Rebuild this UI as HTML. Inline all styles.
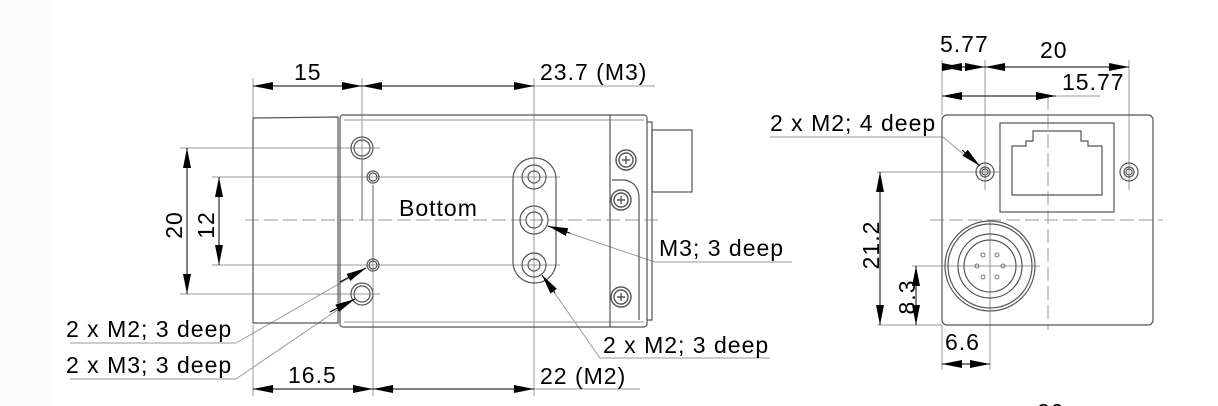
<!DOCTYPE html>
<html><head><meta charset="utf-8"><style>
html,body{margin:0;padding:0;background:#fff;}
svg{display:block;}
text{font-family:"Liberation Sans",sans-serif;font-size:23px;letter-spacing:1px;fill:#000;}
</style></head><body>
<svg width="1218" height="406" viewBox="0 0 1218 406" xmlns="http://www.w3.org/2000/svg">
<defs>
<marker id="a" viewBox="0 0 20 8" refX="20" refY="4" markerWidth="20" markerHeight="8" markerUnits="userSpaceOnUse" orient="auto-start-reverse"><path d="M0,0L20,4L0,8z" fill="#000"/></marker>
</defs>
<rect x="0" y="0" width="50" height="406" fill="#fbfbfb"/>
<g fill="none" stroke="#999" stroke-width="1">
<line x1="253" y1="78" x2="253" y2="118"/>
<line x1="362" y1="78" x2="362" y2="178"/>
<line x1="534" y1="78" x2="534" y2="300"/>
<line x1="253" y1="325" x2="253" y2="396"/>
<line x1="373" y1="250" x2="373" y2="396"/>
<line x1="534" y1="280" x2="534" y2="396"/>
<line x1="180" y1="148" x2="380" y2="148"/>
<line x1="180" y1="294" x2="380" y2="294"/>
<line x1="212" y1="177" x2="560" y2="177"/>
<line x1="212" y1="265" x2="560" y2="265"/>
<line x1="515" y1="86" x2="655" y2="86"/>
<line x1="515" y1="389" x2="640" y2="389"/>
<line x1="245" y1="220" x2="660" y2="220" stroke-dasharray="14,5"/>
<line x1="70" y1="343" x2="236" y2="343"/>
<line x1="236" y1="343" x2="363" y2="270"/>
<line x1="70" y1="379" x2="236" y2="379"/>
<line x1="236" y1="379" x2="352" y2="300"/>
<line x1="655" y1="262" x2="792" y2="262"/>
<line x1="655" y1="262" x2="548" y2="226"/>
<line x1="600" y1="358" x2="770" y2="358"/>
<line x1="600" y1="358" x2="542" y2="275"/>
</g>
<g fill="none" stroke="#555" stroke-width="1.2">
<path d="M253,118 L338,117 L338,323 L253,323 Z"/>
<rect x="340" y="115" width="307" height="212" rx="3"/>
<line x1="344" y1="120" x2="644" y2="120" stroke="#aaa"/>
<line x1="344" y1="322" x2="644" y2="322" stroke="#aaa"/>
<line x1="610" y1="115" x2="610" y2="327"/>
<path d="M612,180 L625,180 Q639,183 639,198 L639,320" />
<line x1="362" y1="160" x2="362" y2="220" stroke="#777"/>
<line x1="373" y1="185" x2="373" y2="260" stroke="#777"/>
<path d="M647,122 L652,122 L652,320 L647,320" />
<rect x="652" y="130" width="40" height="62"/>
<circle cx="362" cy="148" r="11"/><circle cx="362" cy="148" r="8"/>
<circle cx="373" cy="177" r="6"/><circle cx="373" cy="177" r="4"/>
<circle cx="373" cy="265" r="6"/><circle cx="373" cy="265" r="4"/>
<circle cx="362" cy="294" r="11"/><circle cx="362" cy="294" r="8"/>
<rect x="513" y="158" width="43" height="125" rx="21"/>
<circle cx="534" cy="177" r="12"/><circle cx="534" cy="177" r="6"/>
<circle cx="534" cy="220" r="14"/><circle cx="534" cy="220" r="8"/>
<circle cx="534" cy="265" r="12"/><circle cx="534" cy="265" r="6"/>
<g stroke-width="1.4">
<circle cx="626" cy="160" r="10"/><circle cx="626" cy="160" r="7"/>
<path d="M622,160h8M626,156v8"/>
<circle cx="621" cy="200" r="10"/><circle cx="621" cy="200" r="7"/>
<path d="M617,200h8M621,196v8"/>
<circle cx="621" cy="297" r="10"/><circle cx="621" cy="297" r="7"/>
<path d="M617,297h8M621,293v8"/>
</g>
</g>
<g stroke="#000" stroke-width="1" fill="none">
<line x1="253" y1="86" x2="362" y2="86" marker-start="url(#a)" marker-end="url(#a)"/>
<line x1="362" y1="86" x2="534" y2="86" marker-start="url(#a)" marker-end="url(#a)"/>
<line x1="253" y1="389" x2="373" y2="389" marker-start="url(#a)" marker-end="url(#a)"/>
<line x1="373" y1="389" x2="534" y2="389" marker-start="url(#a)" marker-end="url(#a)"/>
<line x1="187" y1="148" x2="187" y2="294" marker-start="url(#a)" marker-end="url(#a)"/>
<line x1="219" y1="177" x2="219" y2="265" marker-start="url(#a)" marker-end="url(#a)"/>
<line x1="340" y1="282" x2="366" y2="268" marker-end="url(#a)"/>
<line x1="330" y1="312" x2="355" y2="299" marker-end="url(#a)"/>
<line x1="570" y1="233" x2="548" y2="226" marker-end="url(#a)"/>
<line x1="555" y1="293" x2="542" y2="275" marker-end="url(#a)"/>
</g>
<text x="294" y="80">15</text>
<text x="540" y="80">23.7 (M3)</text>
<text x="399" y="216">Bottom</text>
<text x="288" y="383">16.5</text>
<text x="540" y="384">22 (M2)</text>
<text transform="translate(182,225) rotate(-90)" text-anchor="middle">20</text>
<text transform="translate(214,225) rotate(-90)" text-anchor="middle">12</text>
<text x="66" y="337">2 x M2; 3 deep</text>
<text x="66" y="373">2 x M3; 3 deep</text>
<text x="659" y="256">M3; 3 deep</text>
<text x="603" y="353">2 x M2; 3 deep</text>

<g fill="none" stroke="#999" stroke-width="1">
<line x1="942" y1="60" x2="942" y2="115"/>
<line x1="985" y1="60" x2="985" y2="190"/>
<line x1="1129" y1="60" x2="1129" y2="190"/>
<line x1="962" y1="96" x2="1100" y2="96"/>
<line x1="1010" y1="67" x2="1129" y2="67"/>
<line x1="1048" y1="96" x2="1048" y2="330" stroke-dasharray="14,5"/>
<line x1="930" y1="220" x2="1163" y2="220" stroke-dasharray="14,5"/>
<line x1="877" y1="172" x2="1000" y2="172"/>
<line x1="877" y1="325" x2="942" y2="325"/>
<line x1="912" y1="266" x2="1040" y2="266"/>
<line x1="990" y1="220" x2="990" y2="370"/>
<line x1="942" y1="325" x2="942" y2="370"/>
<line x1="770" y1="137" x2="943" y2="137"/>
<line x1="943" y1="137" x2="968" y2="158"/>
</g>
<g fill="none" stroke="#555" stroke-width="1.2">
<rect x="942" y="115" width="211" height="210" rx="5"/>
<rect x="1000" y="123" width="114" height="89"/>
<path d="M1012,195 L1012,146 L1026,146 L1026,141 L1033,141 L1033,131 L1081,131 L1081,141 L1088,141 L1088,146 L1102,146 L1102,195 Z"/>
<circle cx="985" cy="172" r="9"/><circle cx="985" cy="172" r="5"/><circle cx="985" cy="172" r="3"/>
<circle cx="1129" cy="172" r="9"/><circle cx="1129" cy="172" r="5"/><circle cx="1129" cy="172" r="3"/>
<circle cx="990" cy="266" r="45"/><circle cx="990" cy="266" r="42"/><circle cx="990" cy="266" r="32"/><circle cx="990" cy="266" r="26"/>
<g stroke-width="0.8"><circle cx="983" cy="255" r="2"/><circle cx="997" cy="255" r="2"/><circle cx="977" cy="266" r="2"/><circle cx="1003" cy="266" r="2"/><circle cx="983" cy="277" r="2"/><circle cx="997" cy="277" r="2"/></g>
</g>
<g stroke="#000" stroke-width="1" fill="none">
<line x1="942" y1="67" x2="962" y2="67" marker-start="url(#a)" marker-end="url(#a)"/>
<line x1="962" y1="67" x2="985" y2="67" marker-end="url(#a)"/>
<line x1="985" y1="67" x2="1129" y2="67" marker-start="url(#a)" marker-end="url(#a)"/>
<line x1="942" y1="96" x2="1056" y2="96" marker-start="url(#a)" marker-end="url(#a)"/>
<line x1="880" y1="172" x2="880" y2="325" marker-start="url(#a)" marker-end="url(#a)"/>
<line x1="916" y1="266" x2="916" y2="325" marker-start="url(#a)" marker-end="url(#a)"/>
<line x1="942" y1="364" x2="990" y2="364" marker-start="url(#a)" marker-end="url(#a)"/>
<line x1="962" y1="150" x2="980" y2="166" marker-end="url(#a)"/>
</g>
<text x="940" y="52">5.77</text>
<text x="1040" y="58">20</text>
<text x="1062" y="90">15.77</text>
<text x="770" y="131">2 x M2; 4 deep</text>
<text transform="translate(879,245) rotate(-90)" text-anchor="middle">21.2</text>
<text transform="translate(915,297) rotate(-90)" text-anchor="middle">8.3</text>
<text x="945" y="350">6.6</text>
<text x="1037" y="420">20</text>
</svg>
</body></html>
